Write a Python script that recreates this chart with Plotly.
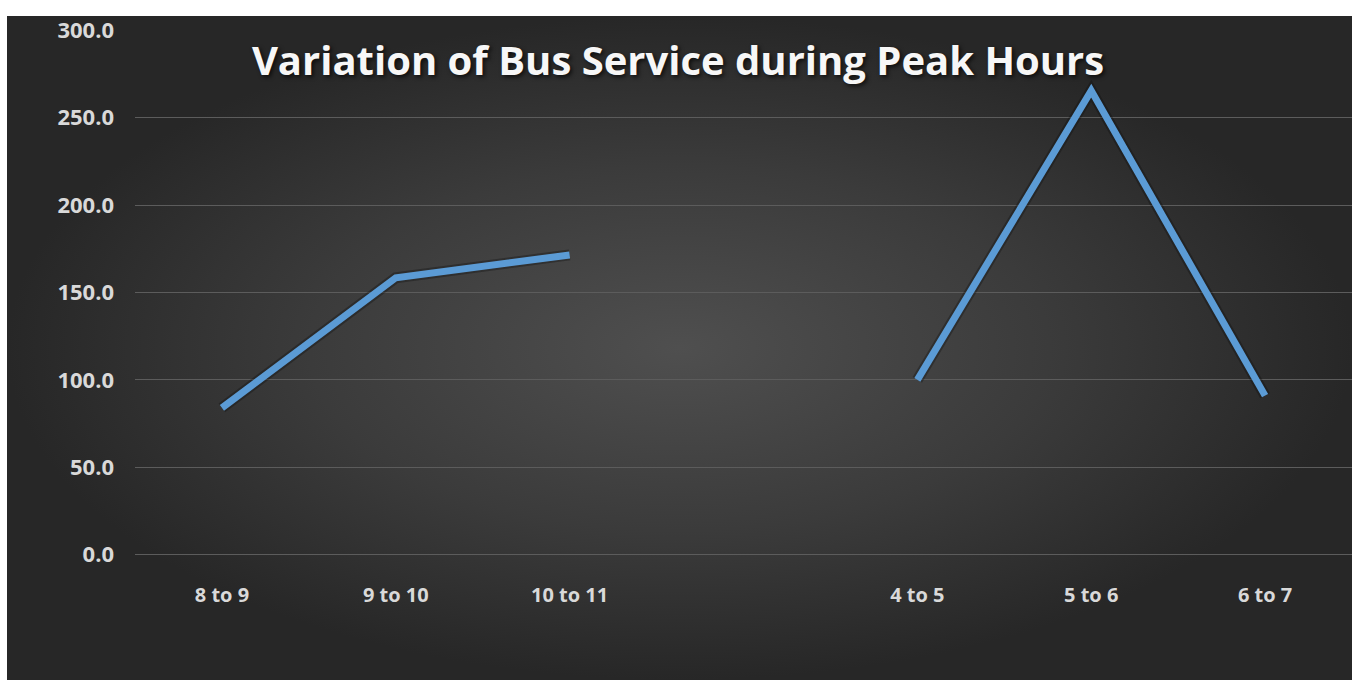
import plotly.graph_objects as go

# ---- data ----
categories = ["8 to 9", "9 to 10", "10 to 11", " ", "4 to 5", "5 to 6", "6 to 7"]
bus_service = [84.0, 158.4, 171.5, None, 100.0, 265.5, 91.0]
y_ticks = [0, 50, 100, 150, 200, 250, 300]
title_text = "Variation of Bus Service during Peak Hours"

W, H = 1356, 694
ML, MR, MT, MB = 7, 4, 8, 0      # white frame around the dark chart area
PW, PH = W - ML - MR, H - MT - MB

def fx(px):  # page x pixel -> paper fraction (plot area)
    return (px - ML) / PW

def fy(py):  # page y pixel -> paper fraction (plot area)
    return (H - MB - py) / PH

fig = go.Figure()

# background radial gradient panel (decoration on its own full-size axes)
fig.add_trace(go.Scatter(
    x=[0, 1, 1, 0, 0], y=[0, 0, 1, 1, 0], mode="lines",
    line=dict(width=0), fill="toself",
    fillgradient=dict(type="radial",
                      colorscale=[[0, "#4f4f4f"], [0.55, "#3b3b3b"], [1, "#272727"]]),
    hoverinfo="skip", showlegend=False, xaxis="x", yaxis="y"))

# soft shadow of the line
fig.add_trace(go.Scatter(
    x=categories, y=bus_service, mode="lines",
    line=dict(color="rgba(15,15,15,0.35)", width=11),
    connectgaps=False, hoverinfo="skip", showlegend=False,
    xaxis="x2", yaxis="y2"))

# main line
fig.add_trace(go.Scatter(
    x=categories, y=bus_service, mode="lines",
    line=dict(color="#5B9BD5", width=7),
    connectgaps=False, showlegend=False,
    xaxis="x2", yaxis="y2"))

fig.update_layout(
    width=W, height=H,
    margin=dict(l=ML, r=MR, t=MT, b=MB, pad=0),
    paper_bgcolor="white",
    plot_bgcolor="rgba(0,0,0,0)",
    showlegend=False,
    hovermode=False,
    dragmode=False,
    title=dict(text=title_text, x=fx(678), xref="paper", xanchor="center",
               y=fy(55), yref="paper", yanchor="middle",
               font=dict(family="Open Sans", size=40, color="#f7f7f7", weight="bold",
                         shadow="2px 2px 4px rgba(0,0,0,0.7)")),
    xaxis=dict(domain=[0, 1], range=[0, 1], visible=False, fixedrange=True),
    yaxis=dict(domain=[0, 1], range=[0, 1], visible=False, fixedrange=True),
    xaxis2=dict(
        anchor="y2",
        domain=[fx(135), 1.0],
        type="category", categoryorder="array", categoryarray=categories,
        range=[-0.5, len(categories) - 0.5],
        showgrid=False, zeroline=False, showline=False, ticks="",
        ticklabelstandoff=26, fixedrange=True,
        tickfont=dict(family="Open Sans", size=20, color="#d9d9d9", weight="bold"),
    ),
    yaxis2=dict(
        anchor="x2",
        domain=[fy(564.5), fy(22.7)],
        range=[0, 300.05], tickvals=y_ticks, tickformat=".1f",
        showgrid=True, gridcolor="#5c5c5c", gridwidth=1,
        zeroline=True, zerolinecolor="#5c5c5c", zerolinewidth=1,
        showline=False, ticks="",
        ticklabelstandoff=20, fixedrange=True,
        tickfont=dict(family="Open Sans", size=22, color="#d9d9d9", weight="bold"),
    ),
)

fig.write_html(
    "out.html",
    config={"displayModeBar": False, "staticPlot": True},
    post_script="document.body.style.margin='0';"
                "document.documentElement.style.overflow='hidden';"
                "document.body.style.overflow='hidden';",
)
